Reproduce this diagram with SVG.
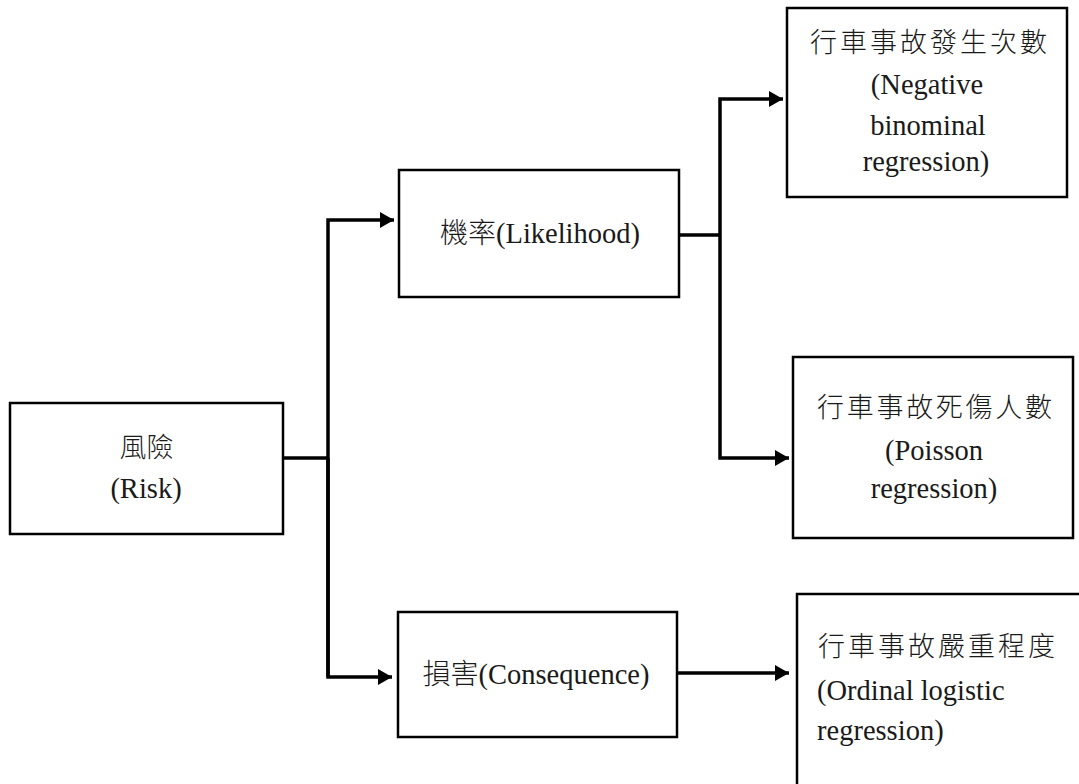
<svg xmlns="http://www.w3.org/2000/svg" width="1079" height="784" viewBox="0 0 1079 784">
<defs>
<style>
.box{fill:#fff;stroke:#000;stroke-width:2.5}
.t{font-family:"Liberation Serif","Noto Sans CJK TC",serif;font-size:28.5px;fill:#1a1a1a}
.c{text-anchor:middle}
.cj{font-family:"Noto Sans CJK TC",sans-serif;font-size:27px;font-weight:300;fill:#1a1a1a}
.ln{fill:none;stroke:#000;stroke-width:3.5}
</style>
<marker id="ah" markerWidth="14" markerHeight="16" refX="14" refY="8" orient="auto" markerUnits="userSpaceOnUse">
<path d="M0,0 L14,8 L0,16 Z" fill="#000"/>
</marker>
</defs>
<rect width="1079" height="784" fill="#fff"/>
<g id="connectors">
<polyline class="ln" points="283,458 328,458"/>
<polyline class="ln" points="328,677 328,220 394,220" marker-end="url(#ah)"/>
<polyline class="ln" points="328,458 328,677 392,677" marker-end="url(#ah)"/>
<polyline class="ln" points="679,235 720,235"/>
<polyline class="ln" points="720,235 720,99 783,99" marker-end="url(#ah)"/>
<polyline class="ln" points="720,235 720,458 789,458" marker-end="url(#ah)"/>
<polyline class="ln" points="677,673 789,673" marker-end="url(#ah)"/>
</g>
<g id="risk">
<rect class="box" x="10" y="403" width="273" height="131"/>
<text class="t c" x="146.5" y="457" font-family="Noto Sans CJK TC, sans-serif" style="font-family:'Noto Sans CJK TC',sans-serif;font-size:27px;font-weight:300">風險</text>
<text class="t c" x="146" y="498">(Risk)</text>
</g>
<g id="likelihood">
<rect class="box" x="399" y="170" width="280" height="127"/>
<text class="t c" x="540" y="243"><tspan style="font-family:'Noto Sans CJK TC',sans-serif;font-size:28px;font-weight:300">機率</tspan>(Likelihood)</text>
</g>
<g id="consequence">
<rect class="box" x="398" y="612" width="279" height="125"/>
<text class="t c" x="536" y="684"><tspan style="font-family:'Noto Sans CJK TC',sans-serif;font-size:28px;font-weight:300">損害</tspan>(Consequence)</text>
</g>
<g id="accident-count">
<rect class="box" x="787" y="8" width="280" height="189"/>
<text class="cj" x="810" y="52" textLength="237" lengthAdjust="spacing">行車事故發生次數</text>
<text class="t c" x="927" y="94">(Negative</text>
<text class="t c" x="928" y="135">binominal</text>
<text class="t c" x="926" y="171">regression)</text>
</g>
<g id="casualty-count">
<rect class="box" x="793" y="357" width="280" height="181"/>
<text class="cj" x="817" y="417" textLength="235" lengthAdjust="spacing">行車事故死傷人數</text>
<text class="t c" x="934" y="460">(Poisson</text>
<text class="t c" x="934" y="498">regression)</text>
</g>
<g id="severity">
<rect class="box" x="797" y="594" width="300" height="210"/>
<text class="cj" x="818" y="656" textLength="237" lengthAdjust="spacing">行車事故嚴重程度</text>
<text class="t" x="817" y="700">(Ordinal logistic</text>
<text class="t" x="817" y="740">regression)</text>
</g>
</svg>
